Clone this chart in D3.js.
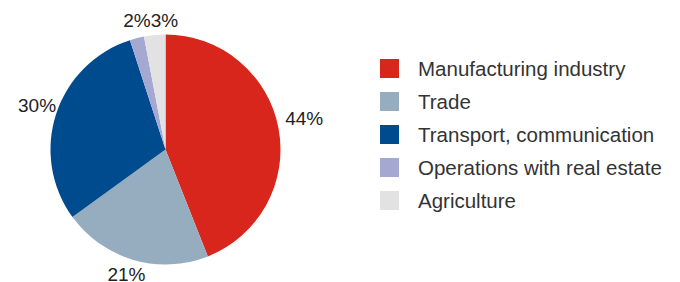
<!DOCTYPE html>
<html>
<head>
<meta charset="utf-8">
<script src="https://cdn.jsdelivr.net/npm/d3@7/dist/d3.min.js"></script>
<style>
  body { margin: 0; background: #fff; }
  svg { display: block; font-family: "Liberation Sans", Arial, sans-serif; }
</style>
</head>
<body>
<svg id="chart"></svg>
<script>
var categories = ["Manufacturing industry", "Trade", "Transport, communication", "Operations with real estate", "Agriculture"];
var values = [44, 21, 30, 2, 3];
var labels = ["44%", "21%", "30%", "2%", "3%"];
var colors = ["#d9261c", "#96adc0", "#004b8d", "#a5a8d0", "#e2e2e2"];

var width = 680, height = 282;
var cx = 165.5, cy = 149.5, radius = 115;

var svg = d3.select("#chart")
    .attr("width", width)
    .attr("height", height);

var data = categories.map(function(c, i){
  return {name: c, value: values[i], label: labels[i]};
});

var color = d3.scaleOrdinal().domain(categories).range(colors);

var pie = d3.pie()
    .sort(null)
    .value(function(d){ return d.value; });

var arc = d3.arc().innerRadius(0).outerRadius(radius);
var labelArc = d3.arc().innerRadius(133).outerRadius(133);

var g = svg.append("g")
    .attr("transform", "translate(" + cx + "," + cy + ")");

var arcs = pie(data);

// slices
g.selectAll("path.slice")
    .data(arcs)
    .enter().append("path")
    .attr("class", "slice")
    .attr("d", arc)
    .attr("fill", function(d){ return color(d.data.name); });

// percent labels
var pct = g.selectAll("text.pct")
    .data(arcs)
    .enter().append("text")
    .attr("class", "pct")
    .attr("x", function(d){
      var c = labelArc.centroid(d);
      var mid = (d.startAngle + d.endAngle) / 2;
      var left = mid > Math.PI && mid < 5.6;
      return c[0] + (left ? -2 : 8);
    })
    .attr("y", function(d){
      var c = labelArc.centroid(d);
      var mid = (d.startAngle + d.endAngle) / 2;
      if (mid > 5.6) return -123;
      return c[1] + 4 + (mid < 2 ? -4 : 0);
    })
    .attr("text-anchor", "middle")
    .attr("font-size", "19px")
    .attr("fill", "#222")
    .text(function(d){ return d.data.label; });

// push apart labels that run into each other (the two small top slices)
var nodes = pct.nodes();
for (var i = 0; i < nodes.length; i++) {
  for (var j = i + 1; j < nodes.length; j++) {
    var a = nodes[i].getBBox(), b = nodes[j].getBBox();
    var yOver = a.y < b.y + b.height && b.y < a.y + a.height;
    var xOver = Math.min(a.x + a.width, b.x + b.width) - Math.max(a.x, b.x);
    if (yOver && xOver > 0) {
      var first = a.x < b.x ? nodes[i] : nodes[j];
      var second = a.x < b.x ? nodes[j] : nodes[i];
      d3.select(first).attr("x", +d3.select(first).attr("x") - xOver / 2);
      d3.select(second).attr("x", +d3.select(second).attr("x") + xOver / 2);
    }
  }
}

// legend
var ly = d3.scalePoint().domain(categories).range([68.5, 200.5]);

var legend = svg.append("g").attr("class", "legend");

legend.selectAll("rect")
    .data(data)
    .enter().append("rect")
    .attr("x", 380)
    .attr("y", function(d){ return ly(d.name) - 9.5; })
    .attr("width", 19)
    .attr("height", 19)
    .attr("fill", function(d){ return color(d.name); });

legend.selectAll("text")
    .data(data)
    .enter().append("text")
    .attr("x", 418)
    .attr("y", function(d){ return ly(d.name) + 7.5; })
    .attr("font-size", "20.5px")
    .attr("fill", "#333")
    .text(function(d){ return d.name; });
</script>
</body>
</html>
